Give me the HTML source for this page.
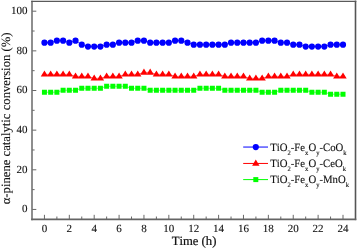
<!DOCTYPE html>
<html><head><meta charset="utf-8"><style>
html,body{margin:0;padding:0;background:#fff;}
body{width:357px;height:249px;overflow:hidden;font-family:"Liberation Serif",serif;}
svg{display:block;will-change:transform;text-rendering:geometricPrecision;font-kerning:none;}
</style></head><body>
<svg width="357" height="249" viewBox="0 0 357 249">
<polyline points="44.44,42.65 50.66,42.65 56.88,40.67 63.10,40.67 69.32,42.65 75.54,40.67 81.76,44.63 87.98,46.61 94.20,46.61 100.42,46.61 106.64,44.63 112.86,44.63 119.08,42.65 125.30,42.65 131.52,42.65 137.74,40.67 143.96,40.67 150.18,42.65 156.40,42.65 162.62,42.65 168.84,42.65 175.06,40.67 181.28,40.67 187.50,42.65 193.72,44.63 199.94,44.63 206.16,44.63 212.38,44.63 218.60,44.63 224.82,44.63 231.04,42.65 237.26,42.65 243.48,42.65 249.70,42.65 255.92,42.65 262.14,40.67 268.36,40.67 274.58,40.67 280.80,42.65 287.02,42.65 293.24,44.63 299.46,44.63 305.68,46.61 311.90,46.61 318.12,46.61 324.34,46.61 330.56,44.63 336.78,44.63 343.00,44.63" fill="none" stroke="#0000ff" stroke-width="0.6"/>
<polyline points="44.44,74.37 50.66,74.37 56.88,74.37 63.10,74.37 69.32,74.37 75.54,76.35 81.76,76.35 87.98,76.35 94.20,78.34 100.42,78.34 106.64,76.35 112.86,76.35 119.08,76.35 125.30,74.37 131.52,74.37 137.74,74.37 143.96,72.39 150.18,72.39 156.40,74.37 162.62,74.37 168.84,74.37 175.06,76.35 181.28,76.35 187.50,76.35 193.72,76.35 199.94,74.37 206.16,74.37 212.38,74.37 218.60,74.37 224.82,76.35 231.04,76.35 237.26,76.35 243.48,76.35 249.70,78.34 255.92,78.34 262.14,78.34 268.36,76.35 274.58,76.35 280.80,76.35 287.02,76.35 293.24,74.37 299.46,74.37 305.68,74.37 311.90,74.37 318.12,74.37 324.34,74.37 330.56,74.37 336.78,76.35 343.00,76.35" fill="none" stroke="#ff0000" stroke-width="0.6"/>
<polyline points="44.44,92.21 50.66,92.21 56.88,92.21 63.10,90.23 69.32,90.23 75.54,90.23 81.76,88.25 87.98,88.25 94.20,88.25 100.42,88.25 106.64,86.26 112.86,86.26 119.08,86.26 125.30,86.26 131.52,88.25 137.74,88.25 143.96,88.25 150.18,90.23 156.40,90.23 162.62,90.23 168.84,90.23 175.06,90.23 181.28,90.23 187.50,90.23 193.72,90.23 199.94,88.25 206.16,88.25 212.38,88.25 218.60,88.25 224.82,90.23 231.04,90.23 237.26,90.23 243.48,90.23 249.70,90.23 255.92,90.23 262.14,92.21 268.36,92.21 274.58,92.21 280.80,90.23 287.02,90.23 293.24,90.23 299.46,90.23 305.68,90.23 311.90,92.21 318.12,92.21 324.34,92.21 330.56,94.19 336.78,94.19 343.00,94.19" fill="none" stroke="#00ff00" stroke-width="0.6"/>
<path d="M41.34 42.65a3.1 3.1 0 1 0 6.20 0a3.1 3.1 0 1 0 -6.20 0ZM47.56 42.65a3.1 3.1 0 1 0 6.20 0a3.1 3.1 0 1 0 -6.20 0ZM53.78 40.67a3.1 3.1 0 1 0 6.20 0a3.1 3.1 0 1 0 -6.20 0ZM60.00 40.67a3.1 3.1 0 1 0 6.20 0a3.1 3.1 0 1 0 -6.20 0ZM66.22 42.65a3.1 3.1 0 1 0 6.20 0a3.1 3.1 0 1 0 -6.20 0ZM72.44 40.67a3.1 3.1 0 1 0 6.20 0a3.1 3.1 0 1 0 -6.20 0ZM78.66 44.63a3.1 3.1 0 1 0 6.20 0a3.1 3.1 0 1 0 -6.20 0ZM84.88 46.61a3.1 3.1 0 1 0 6.20 0a3.1 3.1 0 1 0 -6.20 0ZM91.10 46.61a3.1 3.1 0 1 0 6.20 0a3.1 3.1 0 1 0 -6.20 0ZM97.32 46.61a3.1 3.1 0 1 0 6.20 0a3.1 3.1 0 1 0 -6.20 0ZM103.54 44.63a3.1 3.1 0 1 0 6.20 0a3.1 3.1 0 1 0 -6.20 0ZM109.76 44.63a3.1 3.1 0 1 0 6.20 0a3.1 3.1 0 1 0 -6.20 0ZM115.98 42.65a3.1 3.1 0 1 0 6.20 0a3.1 3.1 0 1 0 -6.20 0ZM122.20 42.65a3.1 3.1 0 1 0 6.20 0a3.1 3.1 0 1 0 -6.20 0ZM128.42 42.65a3.1 3.1 0 1 0 6.20 0a3.1 3.1 0 1 0 -6.20 0ZM134.64 40.67a3.1 3.1 0 1 0 6.20 0a3.1 3.1 0 1 0 -6.20 0ZM140.86 40.67a3.1 3.1 0 1 0 6.20 0a3.1 3.1 0 1 0 -6.20 0ZM147.08 42.65a3.1 3.1 0 1 0 6.20 0a3.1 3.1 0 1 0 -6.20 0ZM153.30 42.65a3.1 3.1 0 1 0 6.20 0a3.1 3.1 0 1 0 -6.20 0ZM159.52 42.65a3.1 3.1 0 1 0 6.20 0a3.1 3.1 0 1 0 -6.20 0ZM165.74 42.65a3.1 3.1 0 1 0 6.20 0a3.1 3.1 0 1 0 -6.20 0ZM171.96 40.67a3.1 3.1 0 1 0 6.20 0a3.1 3.1 0 1 0 -6.20 0ZM178.18 40.67a3.1 3.1 0 1 0 6.20 0a3.1 3.1 0 1 0 -6.20 0ZM184.40 42.65a3.1 3.1 0 1 0 6.20 0a3.1 3.1 0 1 0 -6.20 0ZM190.62 44.63a3.1 3.1 0 1 0 6.20 0a3.1 3.1 0 1 0 -6.20 0ZM196.84 44.63a3.1 3.1 0 1 0 6.20 0a3.1 3.1 0 1 0 -6.20 0ZM203.06 44.63a3.1 3.1 0 1 0 6.20 0a3.1 3.1 0 1 0 -6.20 0ZM209.28 44.63a3.1 3.1 0 1 0 6.20 0a3.1 3.1 0 1 0 -6.20 0ZM215.50 44.63a3.1 3.1 0 1 0 6.20 0a3.1 3.1 0 1 0 -6.20 0ZM221.72 44.63a3.1 3.1 0 1 0 6.20 0a3.1 3.1 0 1 0 -6.20 0ZM227.94 42.65a3.1 3.1 0 1 0 6.20 0a3.1 3.1 0 1 0 -6.20 0ZM234.16 42.65a3.1 3.1 0 1 0 6.20 0a3.1 3.1 0 1 0 -6.20 0ZM240.38 42.65a3.1 3.1 0 1 0 6.20 0a3.1 3.1 0 1 0 -6.20 0ZM246.60 42.65a3.1 3.1 0 1 0 6.20 0a3.1 3.1 0 1 0 -6.20 0ZM252.82 42.65a3.1 3.1 0 1 0 6.20 0a3.1 3.1 0 1 0 -6.20 0ZM259.04 40.67a3.1 3.1 0 1 0 6.20 0a3.1 3.1 0 1 0 -6.20 0ZM265.26 40.67a3.1 3.1 0 1 0 6.20 0a3.1 3.1 0 1 0 -6.20 0ZM271.48 40.67a3.1 3.1 0 1 0 6.20 0a3.1 3.1 0 1 0 -6.20 0ZM277.70 42.65a3.1 3.1 0 1 0 6.20 0a3.1 3.1 0 1 0 -6.20 0ZM283.92 42.65a3.1 3.1 0 1 0 6.20 0a3.1 3.1 0 1 0 -6.20 0ZM290.14 44.63a3.1 3.1 0 1 0 6.20 0a3.1 3.1 0 1 0 -6.20 0ZM296.36 44.63a3.1 3.1 0 1 0 6.20 0a3.1 3.1 0 1 0 -6.20 0ZM302.58 46.61a3.1 3.1 0 1 0 6.20 0a3.1 3.1 0 1 0 -6.20 0ZM308.80 46.61a3.1 3.1 0 1 0 6.20 0a3.1 3.1 0 1 0 -6.20 0ZM315.02 46.61a3.1 3.1 0 1 0 6.20 0a3.1 3.1 0 1 0 -6.20 0ZM321.24 46.61a3.1 3.1 0 1 0 6.20 0a3.1 3.1 0 1 0 -6.20 0ZM327.46 44.63a3.1 3.1 0 1 0 6.20 0a3.1 3.1 0 1 0 -6.20 0ZM333.68 44.63a3.1 3.1 0 1 0 6.20 0a3.1 3.1 0 1 0 -6.20 0ZM339.90 44.63a3.1 3.1 0 1 0 6.20 0a3.1 3.1 0 1 0 -6.20 0Z" fill="#0000ff"/>
<path d="M44.44 70.42L48.14 76.62L40.74 76.62ZM50.66 70.42L54.36 76.62L46.96 76.62ZM56.88 70.42L60.58 76.62L53.18 76.62ZM63.10 70.42L66.80 76.62L59.40 76.62ZM69.32 70.42L73.02 76.62L65.62 76.62ZM75.54 72.40L79.24 78.60L71.84 78.60ZM81.76 72.40L85.46 78.60L78.06 78.60ZM87.98 72.40L91.68 78.60L84.28 78.60ZM94.20 74.39L97.90 80.59L90.50 80.59ZM100.42 74.39L104.12 80.59L96.72 80.59ZM106.64 72.40L110.34 78.60L102.94 78.60ZM112.86 72.40L116.56 78.60L109.16 78.60ZM119.08 72.40L122.78 78.60L115.38 78.60ZM125.30 70.42L129.00 76.62L121.60 76.62ZM131.52 70.42L135.22 76.62L127.82 76.62ZM137.74 70.42L141.44 76.62L134.04 76.62ZM143.96 68.44L147.66 74.64L140.26 74.64ZM150.18 68.44L153.88 74.64L146.48 74.64ZM156.40 70.42L160.10 76.62L152.70 76.62ZM162.62 70.42L166.32 76.62L158.92 76.62ZM168.84 70.42L172.54 76.62L165.14 76.62ZM175.06 72.40L178.76 78.60L171.36 78.60ZM181.28 72.40L184.98 78.60L177.58 78.60ZM187.50 72.40L191.20 78.60L183.80 78.60ZM193.72 72.40L197.42 78.60L190.02 78.60ZM199.94 70.42L203.64 76.62L196.24 76.62ZM206.16 70.42L209.86 76.62L202.46 76.62ZM212.38 70.42L216.08 76.62L208.68 76.62ZM218.60 70.42L222.30 76.62L214.90 76.62ZM224.82 72.40L228.52 78.60L221.12 78.60ZM231.04 72.40L234.74 78.60L227.34 78.60ZM237.26 72.40L240.96 78.60L233.56 78.60ZM243.48 72.40L247.18 78.60L239.78 78.60ZM249.70 74.39L253.40 80.59L246.00 80.59ZM255.92 74.39L259.62 80.59L252.22 80.59ZM262.14 74.39L265.84 80.59L258.44 80.59ZM268.36 72.40L272.06 78.60L264.66 78.60ZM274.58 72.40L278.28 78.60L270.88 78.60ZM280.80 72.40L284.50 78.60L277.10 78.60ZM287.02 72.40L290.72 78.60L283.32 78.60ZM293.24 70.42L296.94 76.62L289.54 76.62ZM299.46 70.42L303.16 76.62L295.76 76.62ZM305.68 70.42L309.38 76.62L301.98 76.62ZM311.90 70.42L315.60 76.62L308.20 76.62ZM318.12 70.42L321.82 76.62L314.42 76.62ZM324.34 70.42L328.04 76.62L320.64 76.62ZM330.56 70.42L334.26 76.62L326.86 76.62ZM336.78 72.40L340.48 78.60L333.08 78.60ZM343.00 72.40L346.70 78.60L339.30 78.60Z" fill="#ff0000"/>
<path d="M41.94 89.71h5.0v5.0h-5.0ZM48.16 89.71h5.0v5.0h-5.0ZM54.38 89.71h5.0v5.0h-5.0ZM60.60 87.73h5.0v5.0h-5.0ZM66.82 87.73h5.0v5.0h-5.0ZM73.04 87.73h5.0v5.0h-5.0ZM79.26 85.75h5.0v5.0h-5.0ZM85.48 85.75h5.0v5.0h-5.0ZM91.70 85.75h5.0v5.0h-5.0ZM97.92 85.75h5.0v5.0h-5.0ZM104.14 83.76h5.0v5.0h-5.0ZM110.36 83.76h5.0v5.0h-5.0ZM116.58 83.76h5.0v5.0h-5.0ZM122.80 83.76h5.0v5.0h-5.0ZM129.02 85.75h5.0v5.0h-5.0ZM135.24 85.75h5.0v5.0h-5.0ZM141.46 85.75h5.0v5.0h-5.0ZM147.68 87.73h5.0v5.0h-5.0ZM153.90 87.73h5.0v5.0h-5.0ZM160.12 87.73h5.0v5.0h-5.0ZM166.34 87.73h5.0v5.0h-5.0ZM172.56 87.73h5.0v5.0h-5.0ZM178.78 87.73h5.0v5.0h-5.0ZM185.00 87.73h5.0v5.0h-5.0ZM191.22 87.73h5.0v5.0h-5.0ZM197.44 85.75h5.0v5.0h-5.0ZM203.66 85.75h5.0v5.0h-5.0ZM209.88 85.75h5.0v5.0h-5.0ZM216.10 85.75h5.0v5.0h-5.0ZM222.32 87.73h5.0v5.0h-5.0ZM228.54 87.73h5.0v5.0h-5.0ZM234.76 87.73h5.0v5.0h-5.0ZM240.98 87.73h5.0v5.0h-5.0ZM247.20 87.73h5.0v5.0h-5.0ZM253.42 87.73h5.0v5.0h-5.0ZM259.64 89.71h5.0v5.0h-5.0ZM265.86 89.71h5.0v5.0h-5.0ZM272.08 89.71h5.0v5.0h-5.0ZM278.30 87.73h5.0v5.0h-5.0ZM284.52 87.73h5.0v5.0h-5.0ZM290.74 87.73h5.0v5.0h-5.0ZM296.96 87.73h5.0v5.0h-5.0ZM303.18 87.73h5.0v5.0h-5.0ZM309.40 89.71h5.0v5.0h-5.0ZM315.62 89.71h5.0v5.0h-5.0ZM321.84 89.71h5.0v5.0h-5.0ZM328.06 91.69h5.0v5.0h-5.0ZM334.28 91.69h5.0v5.0h-5.0ZM340.50 91.69h5.0v5.0h-5.0Z" fill="#00ff00"/>
<path d="M44.44 219.33V214.83M56.88 219.33V216.53M69.32 219.33V214.83M81.76 219.33V216.53M94.20 219.33V214.83M106.64 219.33V216.53M119.08 219.33V214.83M131.52 219.33V216.53M143.96 219.33V214.83M156.40 219.33V216.53M168.84 219.33V214.83M181.28 219.33V216.53M193.72 219.33V214.83M206.16 219.33V216.53M218.60 219.33V214.83M231.04 219.33V216.53M243.48 219.33V214.83M255.92 219.33V216.53M268.36 219.33V214.83M280.80 219.33V216.53M293.24 219.33V214.83M305.68 219.33V216.53M318.12 219.33V214.83M330.56 219.33V216.53M343.00 219.33V214.83M32.00 209.45H36.30M32.00 189.62H34.60M32.00 169.80H36.30M32.00 149.97H34.60M32.00 130.15H36.30M32.00 110.32H34.60M32.00 90.50H36.30M32.00 70.67H34.60M32.00 50.85H36.30M32.00 31.03H34.60M32.00 11.20H36.30" stroke="#606060" stroke-width="0.95" fill="none"/>
<path d="M32.00 0.63V220.13" stroke="#727272" stroke-width="1.6"/>
<path d="M355.50 0.63V220.13" stroke="#555" stroke-width="1.6"/>
<path d="M31.20 1.4H356.30" stroke="#5a5a5a" stroke-width="1.4"/>
<path d="M31.20 219.33H356.30" stroke="#646464" stroke-width="1.6"/>
<g font-family="Liberation Serif" font-size="11.0" fill="#111" stroke="#111" stroke-width="0.12" style="text-rendering:geometricPrecision"><text x="44.44" y="232" text-anchor="middle">0</text><text x="69.32" y="232" text-anchor="middle">2</text><text x="94.20" y="232" text-anchor="middle">4</text><text x="119.08" y="232" text-anchor="middle">6</text><text x="143.96" y="232" text-anchor="middle">8</text><text x="168.84" y="232" text-anchor="middle">10</text><text x="193.72" y="232" text-anchor="middle">12</text><text x="218.60" y="232" text-anchor="middle">14</text><text x="243.48" y="232" text-anchor="middle">16</text><text x="268.36" y="232" text-anchor="middle">18</text><text x="293.24" y="232" text-anchor="middle">20</text><text x="318.12" y="232" text-anchor="middle">22</text><text x="343.00" y="232" text-anchor="middle">24</text><text x="27.6" y="212.30" text-anchor="end">0</text><text x="27.6" y="172.65" text-anchor="end">20</text><text x="27.6" y="133.00" text-anchor="end">40</text><text x="27.6" y="93.35" text-anchor="end">60</text><text x="27.6" y="53.70" text-anchor="end">80</text><text x="27.6" y="14.05" text-anchor="end">100</text></g>
<text x="194" y="245.3" text-anchor="middle" font-family="Liberation Serif" font-size="12.7" fill="#111" stroke="#111" stroke-width="0.22">Time (h)</text>
<text transform="translate(10.2,118.4) rotate(-90)" text-anchor="middle" font-family="Liberation Serif" font-size="12.7" fill="#111" stroke="#111" stroke-width="0.12">&#945;-pinene catalytic conversion (%)</text>
<path d="M243.2 147.04999999999998H268" stroke="#0000ff" stroke-width="1"/>
<circle cx="255.8" cy="147.04999999999998" r="3.1" fill="#0000ff"/>
<text transform="translate(270.2,150.80) scale(0.96,1)" font-family="Liberation Serif" font-size="11.2" fill="#111" stroke="#111" stroke-width="0.12">TiO<tspan font-size="6.8" dy="3.9">2</tspan><tspan dy="-3.9">-Fe</tspan><tspan font-size="6.8" dy="3.9">x</tspan><tspan dy="-3.9">O</tspan><tspan font-size="6.8" dy="3.9">y</tspan><tspan dy="-3.9">-CoO</tspan><tspan font-size="6.8" dy="3.9">k</tspan></text>
<path d="M243.2 163.45H268" stroke="#ff0000" stroke-width="1"/>
<path d="M255.8 159.50L259.50 165.70L252.10 165.70Z" fill="#ff0000"/>
<text transform="translate(270.2,167.10) scale(0.96,1)" font-family="Liberation Serif" font-size="11.2" fill="#111" stroke="#111" stroke-width="0.12">TiO<tspan font-size="6.8" dy="3.9">2</tspan><tspan dy="-3.9">-Fe</tspan><tspan font-size="6.8" dy="3.9">x</tspan><tspan dy="-3.9">O</tspan><tspan font-size="6.8" dy="3.9">y</tspan><tspan dy="-3.9">-CeO</tspan><tspan font-size="6.8" dy="3.9">k</tspan></text>
<path d="M243.2 179.6H268" stroke="#00ff00" stroke-width="1"/>
<rect x="253.30" y="177.10" width="5.0" height="5.0" fill="#00ff00"/>
<text transform="translate(270.2,183.35) scale(0.96,1)" font-family="Liberation Serif" font-size="11.2" fill="#111" stroke="#111" stroke-width="0.12">TiO<tspan font-size="6.8" dy="3.9">2</tspan><tspan dy="-3.9">-Fe</tspan><tspan font-size="6.8" dy="3.9">x</tspan><tspan dy="-3.9">O</tspan><tspan font-size="6.8" dy="3.9">y</tspan><tspan dy="-3.9">-MnO</tspan><tspan font-size="6.8" dy="3.9">k</tspan></text>
</svg>
</body></html>
